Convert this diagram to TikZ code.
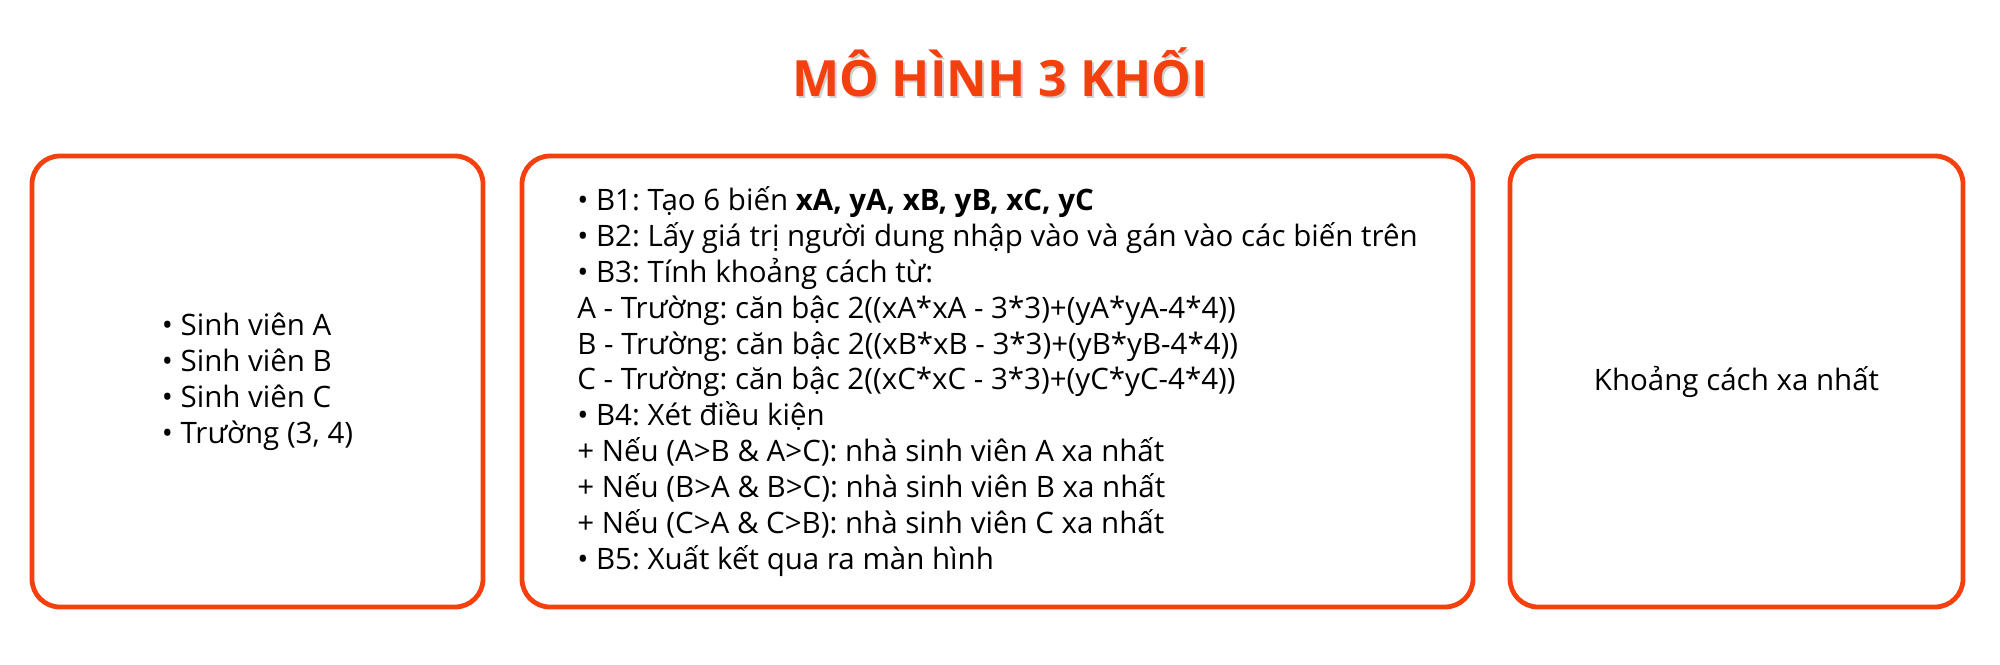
\documentclass[tikz,border=0pt]{standalone}
\usepackage{fontspec}
\setmainfont{Open Sans}
\definecolor{accent}{RGB}{244,64,14}
\frenchspacing
\begin{document}
\begin{tikzpicture}[x=1pt,y=-1pt,
  panel/.style={draw=accent, line width=4.8pt, rounded corners=28pt, inner sep=0pt},
  body/.style={font=\fontsize{29.5}{35.9}\selectfont, align=left, text=black, inner sep=0pt},
  titletext/.style={font=\fontsize{50}{54}\selectfont\bfseries, anchor=base}]
\useasboundingbox (0,0) rectangle (2000,664);
% title with faint shadow
\node[titletext, text=black, opacity=0.18] (titleshadow) at (1002,98) {MÔ HÌNH 3 KHỐI};
\node[titletext, text=accent] (title) at (1000,96) {MÔ HÌNH 3 KHỐI};
% panels
\node[panel, minimum width=451pt, minimum height=451pt] (inputs) at (257.5,381.5) {};
\node[panel, minimum width=951pt, minimum height=451pt] (process) at (997.5,381.5) {};
\node[panel, minimum width=453pt, minimum height=451pt] (output) at (1736.5,381.5) {};
% texts
\node[body] (inputstext) at (inputs.center) {• Sinh viên A\\• Sinh viên B\\• Sinh viên C\\• Trường (3, 4)};
\node[body] (processtext) at (process.center) {• B1: Tạo 6 biến \textbf{xA, yA, xB, yB, xC, yC}\\
• B2: Lấy giá trị người dung nhập vào và gán vào các biến trên\\
• B3: Tính khoảng cách từ:\\
A - Trường: căn bậc 2((xA*xA - 3*3)+(yA*yA-4*4))\\
B - Trường: căn bậc 2((xB*xB - 3*3)+(yB*yB-4*4))\\
C - Trường: căn bậc 2((xC*xC - 3*3)+(yC*yC-4*4))\\
• B4: Xét điều kiện\\
+ Nếu (A>B \& A>C): nhà sinh viên A xa nhất\\
+ Nếu (B>A \& B>C): nhà sinh viên B xa nhất\\
+ Nếu (C>A \& C>B): nhà sinh viên C xa nhất\\
• B5: Xuất kết qua ra màn hình};
\node[body] (outputtext) at (output.center) {Khoảng cách xa nhất};
\end{tikzpicture}
\end{document}
